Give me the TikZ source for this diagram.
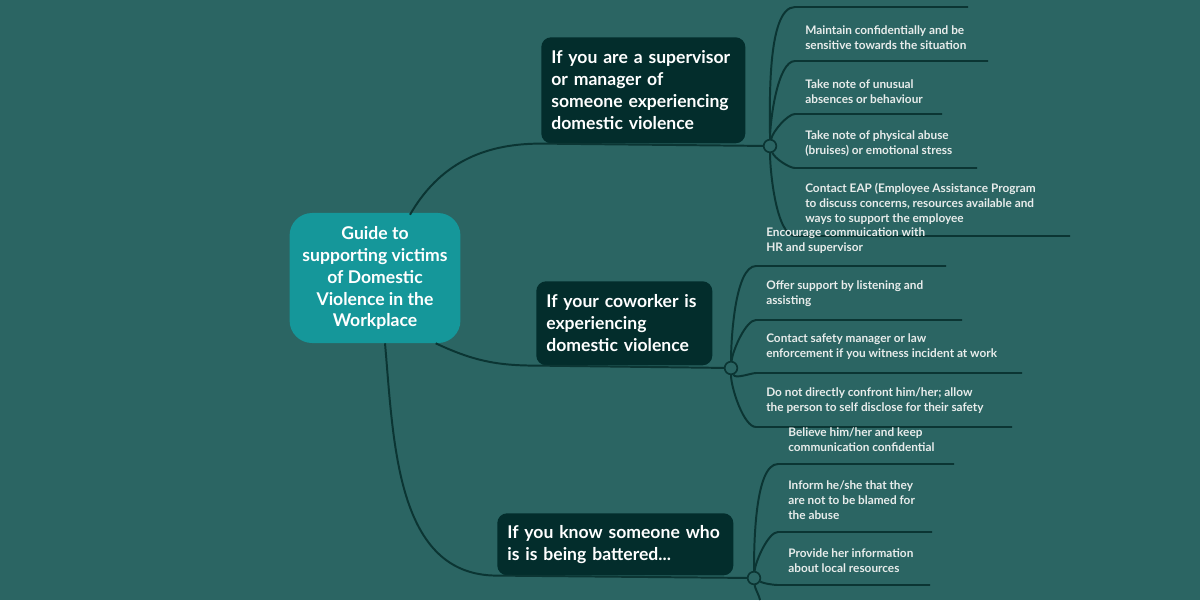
\documentclass[tikz,border=0pt]{standalone}
\usepackage{fontspec}
\setmainfont{Lato}
\usetikzlibrary{positioning}
\definecolor{bgteal}{HTML}{2B6563}
\definecolor{darkbox}{HTML}{032D2C}
\definecolor{maincol}{HTML}{15979A}
\definecolor{linecol}{HTML}{0B3533}
\definecolor{leaftext}{HTML}{E8ECEB}

\tikzset{
  mainbox/.style={rounded corners=16pt, fill=maincol, text=white, align=center, font=\fontsize{12.5}{15.6}\selectfont\bfseries, minimum width=4.27cm, minimum height=3.25cm, inner sep=0pt},
  topicbox/.style={rounded corners=7pt, fill=darkbox, text=white, align=left, font=\fontsize{12.5}{15.6}\selectfont\bfseries, anchor=north west, inner sep=0pt},
  leaf/.style={text=leaftext, align=left, anchor=south west, inner sep=0pt, font=\fontsize{8.4}{10.6}\selectfont\bfseries},
  hub/.style={circle, draw=linecol, fill=bgteal, line width=1.2pt, inner sep=0pt, minimum size=9pt},
  branch/.style={draw=linecol, line width=1.4pt},
  twig/.style={branch, looseness=0.55},
}

\begin{document}
\begin{tikzpicture}[x=0.025cm, y=-0.025cm]
    \fill[bgteal] (0,0) rectangle (1200,600);
    \useasboundingbox (0,0) rectangle (1200,600);

    % central topic
    \node[mainbox] (guide) at (375,278) {Guide to\\supporting victims\\of Domestic\\Violence in the\\Workplace};

    % main topics
    \node[topicbox, minimum width=5.0cm, minimum height=2.65cm, text width=4.6cm, inner xsep=0.25cm] (sup) at (541,37) {If you are a supervisor\\or manager of\\someone experiencing\\domestic violence};
    \node[topicbox, minimum width=4.25cm, minimum height=2.1cm, text width=3.9cm, inner xsep=0.25cm] (cow) at (536,281) {If your coworker is\\experiencing\\domestic violence};
    \node[topicbox, minimum width=5.75cm, minimum height=1.55cm, text width=5.4cm, inner xsep=0.25cm] (know) at (497,513) {If you know someone who\\is is being battered...};

    % hubs
    \node[hub] (h1) at (770,146) {};
    \node[hub] (h2) at (731,368) {};
    \node[hub] (h3) at (754,578) {};

    % branches from the centre
    \draw[branch] (guide.north) ++(35,2) coordinate (g1) to[out=60,in=180] (sup.south west) -- (h1);
    \draw[branch] (guide.south east) ++(-25,0) coordinate (g2) to[out=-25,in=180] (cow.south west) -- (h2);
    \draw[branch] (guide.south) ++(10,0) coordinate (g3) to[out=-85,in=180] (know.south west) -- (h3);

    % supervisor leaves
    \node[leaf] (s1) at (805,50) {Maintain confidentially and be\\sensitive towards the situation};
    \node[leaf] (s2) at (805,104) {Take note of unusual\\absences or behaviour};
    \node[leaf] (s3) at (805,157) {Take note of physical abuse\\(bruises) or emotional stress};
    \node[leaf] (s4) at (805,225) {Contact EAP (Employee Assistance Program\\to discuss concerns, resources available and\\ways to support the employee};
    \coordinate (s0e) at (968,7);
    \coordinate (s1e) at (988,61);
    \coordinate (s2e) at (942,114);
    \coordinate (s3e) at (977,168);
    \coordinate (s4e) at (1070,236);
    \draw[twig] (h1) to[out=90,in=180] (795,7) -- (s0e);
    \draw[twig] (h1) to[out=90,in=180] (795,61) -- (s1e);
    \draw[twig] (h1) to[out=80,in=180] (795,114) -- (s2e);
    \draw[twig] (h1) to[out=-70,in=180] (795,168) -- (s3e);
    \draw[twig] (h1) to[out=-90,in=180] (795,236) -- (s4e);

    % coworker leaves
    \node[leaf] (c1) at (766,254) {Encourage commuication with\\HR and supervisor};
    \node[leaf] (c2) at (766,307) {Offer support by listening and\\assisting};
    \node[leaf] (c3) at (766,360) {Contact safety manager or law\\enforcement if you witness incident at work};
    \node[leaf] (c4) at (766,414) {Do not directly confront him/her; allow\\the person to self disclose for their safety};
    \coordinate (c1e) at (946,266);
    \coordinate (c2e) at (962,320);
    \coordinate (c3e) at (1022,373);
    \coordinate (c4e) at (1012,427);
    \draw[twig] (h2) to[out=90,in=180] (756,266) -- (c1e);
    \draw[twig] (h2) to[out=85,in=180] (756,320) -- (c2e);
    \draw[twig] (h2) to[out=-70,in=180] (756,373) -- (c3e);
    \draw[twig] (h2) to[out=-90,in=180] (756,427) -- (c4e);

    % battered leaves
    \node[leaf] (b1) at (788,452) {Believe him/her and keep\\communication confidential};
    \node[leaf] (b2) at (788,520) {Inform he/she that they\\are not to be blamed for\\the abuse};
    \node[leaf] (b3) at (788,573) {Provide her information\\about local resources};
    \coordinate (b1e) at (954,464);
    \coordinate (b2e) at (932,532);
    \coordinate (b3e) at (930,585);
    \draw[twig] (h3) to[out=90,in=180] (778,464) -- (b1e);
    \draw[twig] (h3) to[out=85,in=180] (778,532) -- (b2e);
    \draw[twig] (h3) to[out=-30,in=180] (778,585) -- (b3e);
    \draw[twig] (h3) to[out=-85,in=95] (760,600);
\end{tikzpicture}
\end{document}
